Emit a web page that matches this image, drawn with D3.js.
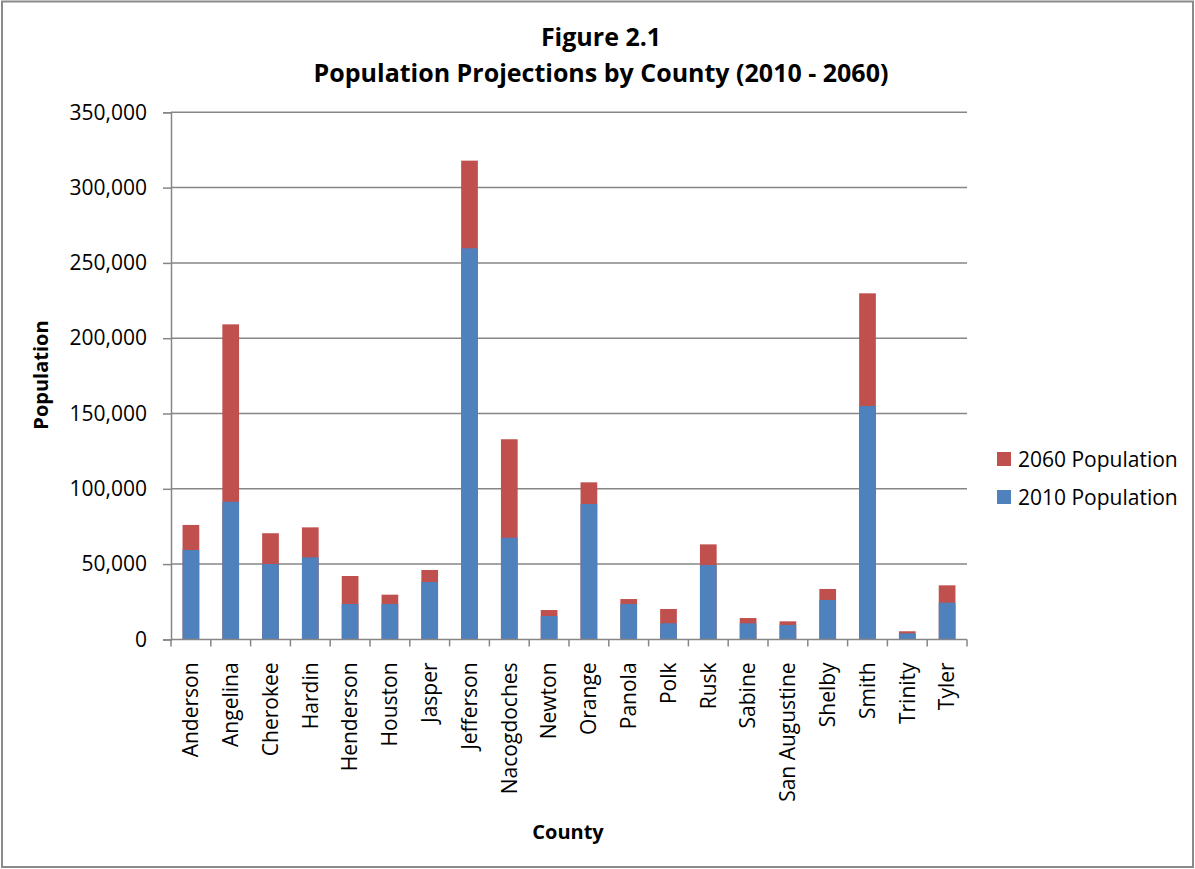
<!DOCTYPE html>
<html>
<head>
<meta charset="utf-8">
<script src="https://cdn.jsdelivr.net/npm/d3@7"></script>
<style>
  html, body { margin: 0; padding: 0; background: #fff; }
  svg { display: block; }
  text { font-family: "Open Sans", "Noto Sans", sans-serif; fill: #000; }
</style>
</head>
<body>
<script>
// Counties and their population (2010 census and 2060 projection)
const counties = ["Anderson", "Angelina", "Cherokee", "Hardin", "Henderson", "Houston", "Jasper",
  "Jefferson", "Nacogdoches", "Newton", "Orange", "Panola", "Polk", "Rusk", "Sabine",
  "San Augustine", "Shelby", "Smith", "Trinity", "Tyler"];
const pop2010 = [59400, 91400, 50100, 54500, 23500, 23500, 38100, 259700, 67500, 15500,
  89900, 23500, 10700, 49400, 10700, 9600, 26200, 155000, 4000, 24400];
const pop2060 = [76000, 209200, 70500, 74400, 42100, 29700, 46100, 317900, 132900, 19500,
  104300, 26800, 20200, 63100, 14200, 12000, 33500, 229800, 5400, 35900];
const yTicks = [0, 50000, 100000, 150000, 200000, 250000, 300000, 350000];
const seriesNames = ["2060 Population", "2010 Population"];
const seriesColors = ["#C0504D", "#4F81BD"];

const W = 1195, H = 869;
const plot = { left: 171, right: 967, top: 112.3, bottom: 639.4 };
const gridColor = "#868686";

const svg = d3.select("body").append("svg").attr("width", W).attr("height", H);

// outer frame
svg.append("rect").attr("x", 2).attr("y", 1.5).attr("width", W - 4).attr("height", H - 3.5)
  .attr("fill", "#fff").attr("stroke", "#8a8a8a").attr("stroke-width", 2);

const x = d3.scaleBand().domain(counties).range([plot.left, plot.right]).padding(0);
const y = d3.scaleLinear().domain([0, 350000]).range([plot.bottom, plot.top]);

// horizontal gridlines
svg.append("g").selectAll("line").data(yTicks.slice(1)).join("line")
  .attr("x1", plot.left).attr("x2", plot.right)
  .attr("y1", d => y(d)).attr("y2", d => y(d))
  .attr("stroke", gridColor).attr("stroke-width", 1.5);

// bars: 2060 projection behind, 2010 in front
const barW = x.bandwidth() * 0.42;
const bars = svg.append("g");
bars.selectAll("rect.p60").data(counties).join("rect").attr("class", "p60")
  .attr("x", d => x(d) + (x.bandwidth() - barW) / 2)
  .attr("width", barW)
  .attr("y", (d, i) => y(pop2060[i]))
  .attr("height", (d, i) => y(0) - y(pop2060[i]))
  .attr("fill", seriesColors[0]);
bars.selectAll("rect.p10").data(counties).join("rect").attr("class", "p10")
  .attr("x", d => x(d) + (x.bandwidth() - barW) / 2)
  .attr("width", barW)
  .attr("y", (d, i) => y(pop2010[i]))
  .attr("height", (d, i) => y(0) - y(pop2010[i]))
  .attr("fill", seriesColors[1]);

// y axis
const yAxis = svg.append("g").attr("transform", `translate(${plot.left},0)`)
  .call(d3.axisLeft(y).tickValues(yTicks).tickFormat(d3.format(",")).tickSize(8).tickPadding(16));
yAxis.select(".domain").attr("stroke", gridColor).attr("stroke-width", 1.5);
yAxis.selectAll(".tick line").attr("stroke", gridColor).attr("stroke-width", 1.5);
yAxis.selectAll(".tick text").attr("font-size", 21).attr("font-family", "Open Sans").attr("fill", "#000");

// x axis: ticks on category boundaries
const xAxisG = svg.append("g");
xAxisG.append("line").attr("x1", plot.left).attr("x2", plot.right)
  .attr("y1", plot.bottom).attr("y2", plot.bottom)
  .attr("stroke", gridColor).attr("stroke-width", 1.5);
const bounds = counties.map(d => x(d)).concat([x(counties[counties.length - 1]) + x.bandwidth()]);
xAxisG.selectAll("line.tk").data(bounds).join("line").attr("class", "tk")
  .attr("x1", d => d).attr("x2", d => d)
  .attr("y1", plot.bottom).attr("y2", plot.bottom + 7)
  .attr("stroke", gridColor).attr("stroke-width", 1.5);
xAxisG.selectAll("text").data(counties).join("text")
  .attr("transform", d => `translate(${x(d) + x.bandwidth() / 2},${plot.bottom + 23}) rotate(-90)`)
  .attr("text-anchor", "end")
  .attr("dy", "0.35em")
  .attr("font-size", 21)
  .text(d => d);

// titles
svg.append("text").attr("x", 601).attr("y", 46).attr("text-anchor", "middle")
  .attr("font-size", 25).attr("font-weight", "bold").text("Figure 2.1");
svg.append("text").attr("x", 601).attr("y", 82).attr("text-anchor", "middle")
  .attr("font-size", 25).attr("font-weight", "bold").text("Population Projections by County (2010 - 2060)");
svg.append("text").attr("transform", "translate(48,375) rotate(-90)").attr("text-anchor", "middle")
  .attr("font-size", 20).attr("font-weight", "bold").text("Population");
svg.append("text").attr("x", 568).attr("y", 839).attr("text-anchor", "middle")
  .attr("font-size", 20).attr("font-weight", "bold").text("County");

// legend
const legend = svg.append("g").selectAll("g").data(seriesNames).join("g")
  .attr("transform", (d, i) => `translate(997,${452 + i * 38})`);
legend.append("rect").attr("width", 14).attr("height", 14).attr("fill", (d, i) => seriesColors[i]);
legend.append("text").attr("x", 21).attr("y", 7).attr("dy", "0.36em").attr("font-size", 21).text(d => d);
</script>
</body>
</html>
